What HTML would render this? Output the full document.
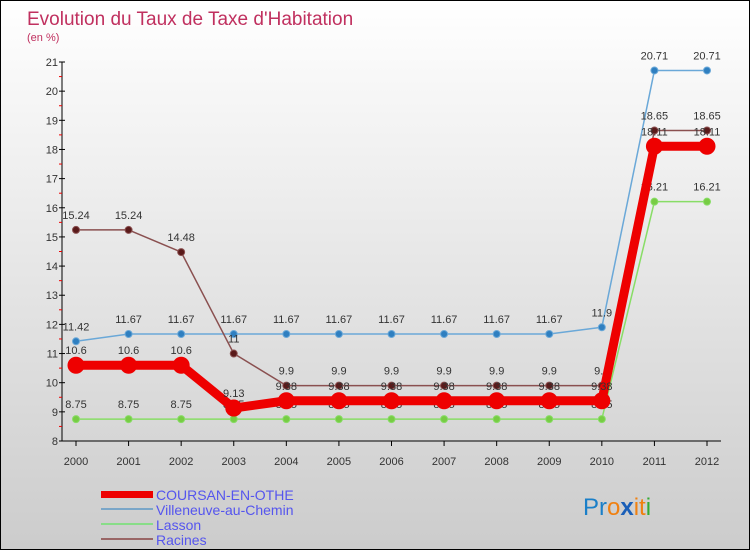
<!DOCTYPE html>
<html><head><meta charset="utf-8"><style>
body{margin:0}
#c{position:relative;width:748px;height:548px;border:1px solid #000;background:linear-gradient(#fff,#ccc);font-family:"Liberation Sans",sans-serif;overflow:hidden}
svg text{font-family:"Liberation Sans",sans-serif}
</style></head><body>
<div id="c">
<svg id="s" width="748" height="548">
<text x="26" y="24" font-size="19" fill="#c0305f">Evolution du Taux de Taxe d'Habitation</text>
<text x="26" y="40" font-size="11" fill="#c0305f">(en %)</text>
<g id="axes"></g><g id="series"></g>
<g>
<rect x="100" y="490" width="52" height="7" fill="#e00"/>
<text x="155" y="499" font-size="14" fill="#55e">COURSAN-EN-OTHE</text>
<rect x="100" y="507" width="52" height="2" fill="#7aa6c8"/>
<text x="155" y="514" font-size="14" fill="#55e">Villeneuve-au-Chemin</text>
<rect x="100" y="522" width="52" height="2" fill="#8d8"/>
<text x="155" y="529" font-size="14" fill="#55e">Lasson</text>
<rect x="100" y="537" width="52" height="2" fill="#966"/>
<text x="155" y="544" font-size="14" fill="#55e">Racines</text>
</g>
<text x="582" y="514" font-size="24"><tspan fill="#1a7fc8">Pr</tspan><tspan fill="#f08010">o</tspan><tspan fill="#1a5fb8" font-weight="bold">x</tspan><tspan fill="#f08010">it</tspan><tspan fill="#3a3">i</tspan></text>
</svg></div>
<script>
const years=[2000,2001,2002,2003,2004,2005,2006,2007,2008,2009,2010,2011,2012];
const yTicks=[8,9,10,11,12,13,14,15,16,17,18,19,20,21];
const coursan=[10.6,10.6,10.6,9.13,9.38,9.38,9.38,9.38,9.38,9.38,9.38,18.11,18.11];
const villeneuve=[11.42,11.67,11.67,11.67,11.67,11.67,11.67,11.67,11.67,11.67,11.9,20.71,20.71];
const lasson=[8.75,8.75,8.75,8.75,8.75,8.75,8.75,8.75,8.75,8.75,8.75,16.21,16.21];
const racines=[15.24,15.24,14.48,11,9.9,9.9,9.9,9.9,9.9,9.9,9.9,18.65,18.65];
const NS="http://www.w3.org/2000/svg";
const X=i=>75+i*(631/12), Y=v=>440-(v-8)*(379/13);
function mk(t,a,p){const e=document.createElementNS(NS,t);for(const k in a)e.setAttribute(k,a[k]);p.appendChild(e);return e;}
const ax=document.getElementById('axes'), sg=document.getElementById('series');
let e=mk('line',{x1:61,y1:61,x2:61,y2:440,stroke:'#000'},ax);


e=mk('line',{x1:61,y1:440,x2:720,y2:440,stroke:'#000'},ax);


yTicks.forEach((v,i)=>{
 mk('line',{x1:58,y1:Y(v),x2:64,y2:Y(v),stroke:'#000'},ax);
 if(i<yTicks.length-1)mk('line',{x1:58,y1:Y(v+0.5),x2:61,y2:Y(v+0.5),stroke:'#e00'},ax);
 const t=mk('text',{x:57,y:Y(v)+4,'font-size':11,'text-anchor':'end',fill:'#333'},ax);t.textContent=v;
 
 
});
years.forEach((y,i)=>{
 mk('line',{x1:X(i),y1:440,x2:X(i),y2:445,stroke:'#000'},ax);
 const t=mk('text',{x:X(i),y:464,'font-size':11,'text-anchor':'middle',fill:'#333'},ax);t.textContent=y;
 
 
});
function series(d,name,col,w,r,fill){
 const g=mk('g',{},sg);
 
 
 mk('polyline',{points:d.map((v,i)=>X(i)+','+Y(v)).join(' '),fill:'none',stroke:col,'stroke-width':w,'stroke-linejoin':'round'},g);
 d.forEach((v,i)=>{
  const c=mk('circle',{cx:X(i),cy:Y(v),r:r,fill:fill,stroke:col,'stroke-width':1},g);
  
  
  const t=mk('text',{x:X(i),y:Y(v)-11,'font-size':11,'text-anchor':'middle',fill:'#333'},g);t.textContent=v;
  
  
 });
}
series(villeneuve,'villeneuve','#6aa8d8',1.5,3.5,'#2f7fc0');
series(lasson,'lasson','#8d6',1.5,3.5,'#7c4');
series(racines,'racines','#8a5050',1.5,3.5,'#5a1a1a');
series(coursan,'coursan','#e00',9,8,'#e00');
</script>
</body></html>
